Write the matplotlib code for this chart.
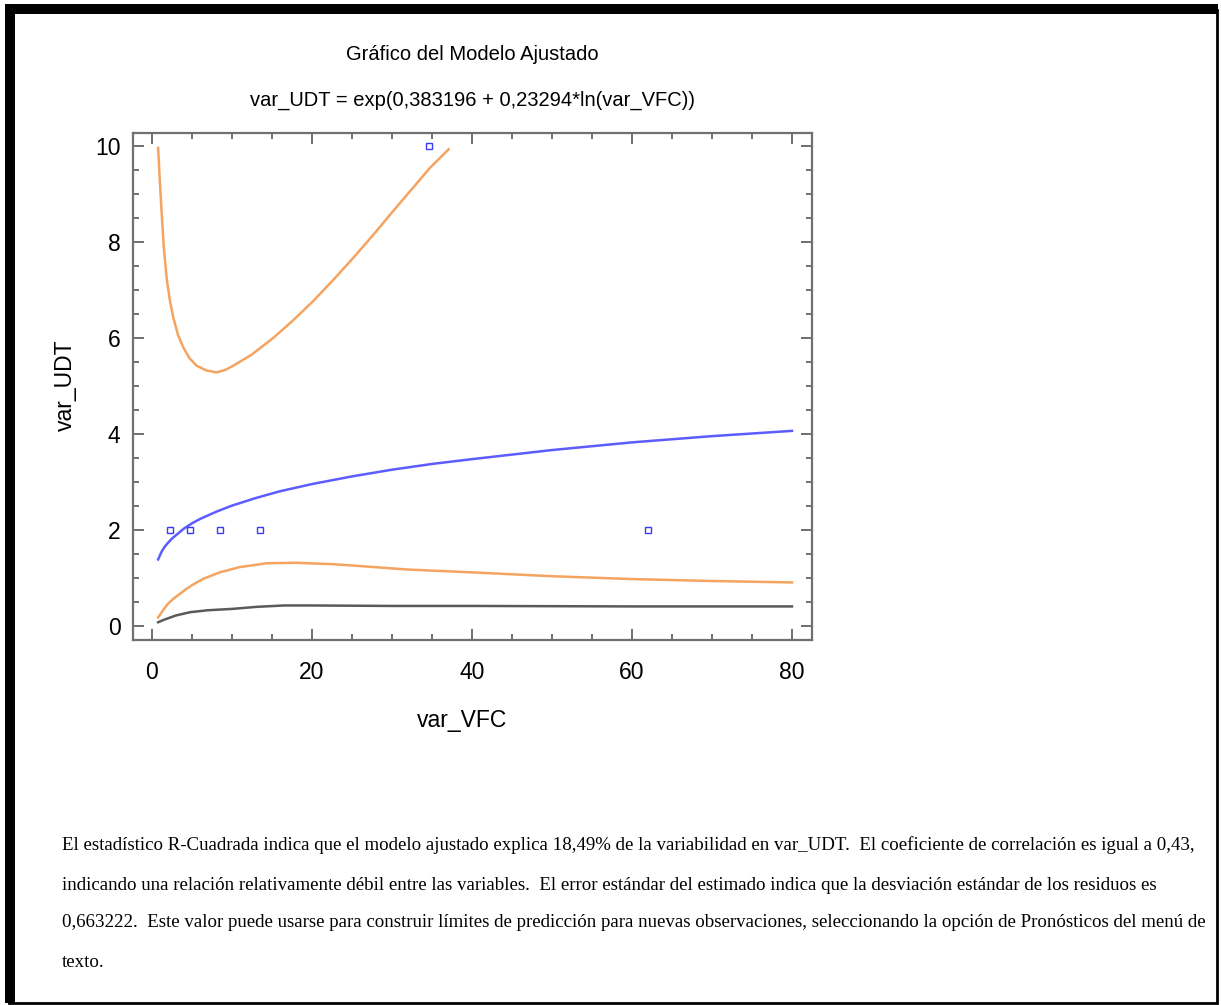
import matplotlib
matplotlib.use("Agg")
import matplotlib.pyplot as plt
from matplotlib.patches import Rectangle

# observed points
obs_x = [2.3, 4.8, 8.5, 13.5, 34.7, 62.0]
obs_y = [2, 2, 2, 2, 10, 2]

# fitted model
fit_x = [0.8, 1.2, 1.6, 2, 2.5, 3, 4, 5, 6, 8, 10, 13, 16, 20, 25, 30, 35, 40,
         50, 60, 70, 80]
fit_y = [1.38, 1.53, 1.64, 1.72, 1.81, 1.88, 2.02, 2.13, 2.22, 2.37, 2.50, 2.66,
         2.80, 2.95, 3.11, 3.25, 3.37, 3.47, 3.66, 3.82, 3.95, 4.06]

# upper prediction limit
up_x = [0.8, 1.0, 1.25, 1.5, 1.9, 2.3, 2.7, 3.3, 3.95, 4.7, 5.6, 6.8, 8.1, 9.2,
        10.2, 12.5, 15.2, 17.7, 20.2, 22.7, 25.2, 27.7, 30.2, 32.5, 34.8, 37.1]
up_y = [9.96, 9.30, 8.58, 7.90, 7.19, 6.75, 6.42, 6.05, 5.80, 5.58, 5.42, 5.32,
        5.28, 5.33, 5.42, 5.65, 6.00, 6.37, 6.77, 7.21, 7.67, 8.15, 8.65, 9.10,
        9.55, 9.93]

# lower prediction limit
lo_x = [0.8, 1.5, 2, 2.7, 3.5, 4.2, 5, 6.5, 8.5, 11, 14.4, 18, 22.7, 27, 31.9,
        40, 50, 60, 70, 80]
lo_y = [0.17, 0.34, 0.45, 0.56, 0.66, 0.75, 0.84, 0.98, 1.11, 1.22, 1.30, 1.31,
        1.28, 1.23, 1.17, 1.11, 1.03, 0.97, 0.93, 0.90]

# lower confidence limit
cl_x = [0.8, 1.5, 2, 3, 4.8, 7, 10.2, 13, 16.5, 20, 30, 40, 60, 80]
cl_y = [0.07, 0.12, 0.15, 0.21, 0.28, 0.32, 0.35, 0.39, 0.42, 0.42, 0.41, 0.41,
        0.40, 0.40]

title1 = "Gráfico del Modelo Ajustado"
title2 = "var_UDT = exp(0,383196 + 0,23294*ln(var_VFC))"

note_lines = [
    "El estadístico R-Cuadrada indica que el modelo ajustado explica 18,49% de la variabilidad en var_UDT.  El coeficiente de correlación es igual a 0,43,",
    "indicando una relación relativamente débil entre las variables.  El error estándar del estimado indica que la desviación estándar de los residuos es",
    "0,663222.  Este valor puede usarse para construir límites de predicción para nuevas observaciones, seleccionando la opción de Pronósticos del menú de",
    "texto.",
]

sans = ["Liberation Sans", "DejaVu Sans"]
serif = ["Liberation Serif", "DejaVu Serif"]

fig = plt.figure(figsize=(12.21, 10.05), dpi=100)
ax = fig.add_axes([133 / 1221, 1 - 640 / 1005, (812 - 133) / 1221, (640 - 133) / 1005])

orange = "#f4a460"
ax.plot(up_x, up_y, color=orange, lw=1.8)
ax.plot(lo_x, lo_y, color=orange, lw=1.8)
ax.plot(cl_x, cl_y, color="#5a5a5a", lw=1.8)
ax.plot(fit_x, fit_y, color="#5c5cff", lw=1.8)
ax.plot(obs_x, obs_y, ls="none", marker="s", ms=4.5, mfc="none",
        mec="#3a3aff", mew=1.0)

ax.set_xlim(-2.34, 82.5)
ax.set_ylim(-0.30, 10.27)
ax.set_xticks([0, 20, 40, 60, 80])
ax.set_xticks(range(0, 81, 5), minor=True)
ax.set_yticks([0, 2, 4, 6, 8, 10])
ax.set_yticks([i * 0.5 for i in range(21)], minor=True)

for s in ax.spines.values():
    s.set_color("#707070")
    s.set_linewidth(1.6)
ax.tick_params(which="both", direction="in", top=True, right=True,
               color="#707070", width=1.4)
ax.tick_params(which="major", length=8, labelsize=16.5)
ax.tick_params(axis="y", which="major", pad=9)
ax.tick_params(axis="x", which="major", pad=15)
ax.tick_params(which="minor", length=4)
for lab in ax.get_xticklabels() + ax.get_yticklabels():
    lab.set_family(sans)

ax.set_xlabel("var_VFC", family=sans, fontsize=16.5, va="center")
ax.xaxis.set_label_coords(0.485, -0.158)
ax.set_ylabel("var_UDT", family=sans, fontsize=16.5, va="center")
ax.yaxis.set_label_coords(-0.100, 0.503)

fig.text(472 / 1221, 1 - 55 / 1005, title1, family=sans, fontsize=14.5,
         ha="center", va="center")
fig.text(472 / 1221, 1 - 100 / 1005, title2, family=sans, fontsize=14.5,
         ha="center", va="center")

ys = [845, 885, 922, 962]
for line, y in zip(note_lines, ys):
    fig.text(62 / 1221, 1 - y / 1005, line, family=serif, fontsize=13.6,
             ha="left", va="center")

# frame around the whole picture
fig.patches.append(Rectangle((9 / 1221, 2 / 1005), 1208 / 1221, 993 / 1005,
                             transform=fig.transFigure, fill=False,
                             edgecolor="black", lw=2))
fig.patches.append(Rectangle((5 / 1221, 1 - 14 / 1005), 1213 / 1221, 10 / 1005,
                             transform=fig.transFigure, color="black", lw=0))
fig.patches.append(Rectangle((5 / 1221, 2 / 1005), 10 / 1221, 990 / 1005,
                             transform=fig.transFigure, color="black", lw=0))

fig.savefig("out.png", dpi=100)
